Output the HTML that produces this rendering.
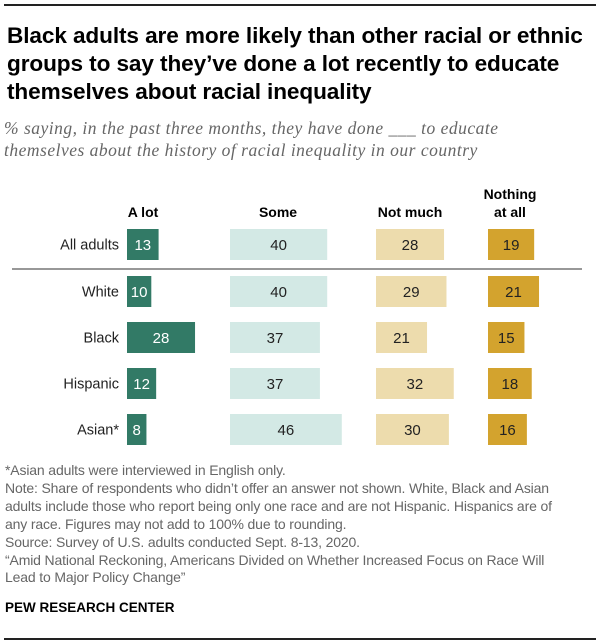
<!DOCTYPE html>
<html><head><meta charset="utf-8"><style>
body{margin:0;background:#fff;font-family:"Liberation Sans",sans-serif;}
#wrap{position:relative;width:600px;height:643px;overflow:hidden;}
.t{position:absolute;white-space:nowrap;}
</style></head><body>
<div id="wrap">
<div class="t" style="left:4px;top:4px;width:592px;height:2px;background:#222;"></div>
<div class="t" style="left:7px;top:22px;font-size:22.6px;font-weight:bold;line-height:28px;color:#000;letter-spacing:-0.1px;">Black adults are more likely than other racial or ethnic<br>groups to say they’ve done a lot recently to educate<br>themselves about racial inequality</div>
<div class="t" style="left:4px;top:117px;font-family:'Liberation Serif',serif;font-style:italic;font-size:17.5px;line-height:22px;color:#666;letter-spacing:0.5px;">% saying, in the past three months, they have done ___ to educate<br>themselves about the history of racial inequality in our country</div>
<svg id="svg" width="600" height="643" style="position:absolute;left:0;top:0"></svg>
<div class="t" style="left:5px;top:462px;font-size:14px;line-height:17.9px;color:#666;letter-spacing:-0.15px;">*Asian adults were interviewed in English only.<br>Note: Share of respondents who didn’t offer an answer not shown. White, Black and Asian<br>adults include those who report being only one race and are not Hispanic. Hispanics are of<br>any race. Figures may not add to 100% due to rounding.<br>Source: Survey of U.S. adults conducted Sept. 8-13, 2020.<br>“Amid National Reckoning, Americans Divided on Whether Increased Focus on Race Will<br>Lead to Major Policy Change”</div>
<div class="t" style="left:5px;top:600px;font-size:13.5px;font-weight:bold;color:#000;">PEW RESEARCH CENTER</div>
<div class="t" style="left:4px;top:638px;width:592px;height:2px;background:#222;"></div>
</div>
<script>
const groups=["All adults","White","Black","Hispanic","Asian*"];
const aLot=[13,10,28,12,8];
const some=[40,40,37,37,46];
const notMuch=[28,29,21,32,30];
const nothing=[19,21,15,18,16];
const headers=["A lot","Some","Not much","Nothing|at all"];
const series=[aLot,some,notMuch,nothing];
const starts=[127,230,376,488];
const hdrX=[143,278,410,510];
const colors=["#327a66","#d3e9e5","#eddcad","#d3a32e"];
const tcolors=["#fff","#222","#222","#222"];
const scale=2.43;
const rowY=[229,276,322,368,414];
const bh=31;
const svg=document.getElementById('svg');
const NS="http://www.w3.org/2000/svg";
function x(c,v){return starts[c]+v*scale;}
function mk(t,a){const e=document.createElementNS(NS,t);for(const k in a)e.setAttribute(k,a[k]);svg.appendChild(e);return e;}
headers.forEach((h,c)=>{
  const parts=h.split('|');
  parts.forEach((p,i)=>{
    const e=mk('text',{x:hdrX[c],y:217-(parts.length-1-i)*18,'text-anchor':'middle','font-size':14,'font-weight':'bold',fill:'#000'});
    e.textContent=p;
    
    
  });
});
const ln=mk('line',{x1:12,x2:582,y1:269,y2:269,stroke:'#777','stroke-width':1.5});


groups.forEach((g,r)=>{
  const l=mk('text',{x:119,y:rowY[r]+bh/2+5,'text-anchor':'end','font-size':14.5,fill:'#222'});
  l.textContent=g;
  
  
  series.forEach((s,c)=>{
    const w=x(c,s[r])-starts[c];
    const b=mk('rect',{x:starts[c],y:rowY[r],width:w,height:bh,fill:colors[c]});
    
    
    const v=mk('text',{x:starts[c]+w/2,y:rowY[r]+bh/2+5.5,'text-anchor':'middle','font-size':15,fill:tcolors[c]});
    v.textContent=s[r];
    
    
  });
});
</script>
</body></html>
